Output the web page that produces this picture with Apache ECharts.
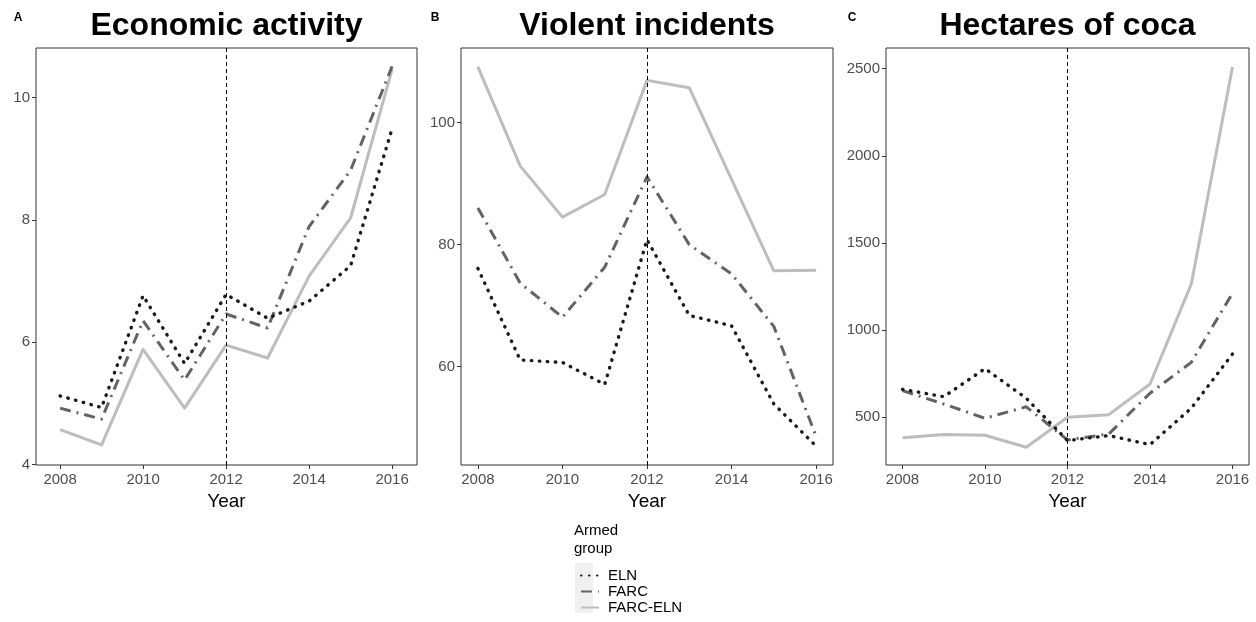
<!DOCTYPE html>
<html>
<head>
<meta charset="utf-8">
<script src="https://cdn.jsdelivr.net/npm/echarts@6/dist/echarts.min.js"></script>
<style>
html,body{margin:0;padding:0;background:#fff;}
#chart{width:1256px;height:622px;}
</style>
</head>
<body>
<div id="chart"></div>
<script>
const years = [2008, 2009, 2010, 2011, 2012, 2013, 2014, 2015, 2016];
const groups = ['ELN', 'FARC', 'FARC-ELN'];

const econELN     = [5.12, 4.93, 6.76, 5.65, 6.78, 6.39, 6.67, 7.25, 9.49];
const econFARC    = [4.92, 4.74, 6.35, 5.38, 6.46, 6.23, 7.89, 8.81, 10.51];
const econFARCELN = [4.57, 4.32, 5.88, 4.92, 5.95, 5.74, 7.08, 8.03, 10.46];

const violELN     = [76.1, 61.1, 60.7, 57.1, 80.8, 68.4, 66.7, 53.9, 47.0];
const violFARC    = [86.0, 73.7, 68.1, 76.3, 91.1, 80.0, 75.2, 66.6, 48.6];
const violFARCELN = [109.1, 92.9, 84.5, 88.2, 106.9, 105.7, 90.7, 75.7, 75.8];

const cocaELN     = [660, 618, 779, 609, 366, 395, 343, 552, 863];
const cocaFARC    = [653, 576, 494, 560, 370, 404, 638, 815, 1212];
const cocaFARCELN = [382, 401, 397, 328, 500, 515, 691, 1264, 2510];

const xTicks    = [2008, 2010, 2012, 2014, 2016];
const econTicks = [4, 6, 8, 10];
const violTicks = [60, 80, 100];
const cocaTicks = [500, 1000, 1500, 2000, 2500];

const panelTitles = ['Economic activity', 'Violent incidents', 'Hectares of coca'];
const panelLetters = ['A', 'B', 'C'];
const cutYear = 2012;

const FONT = "'Liberation Sans', Arial, sans-serif";
const styles = {
  'ELN':      {color: '#1a1a1a', width: 3.4, type: [0.5, 7.5], cap: 'round'},
  'FARC':     {color: '#636363', width: 3, type: [11, 6, 2, 6], cap: 'butt'},
  'FARC-ELN': {color: '#bdbdbd', width: 3, type: 'solid', cap: 'butt'}
};

const panels = [
  {left: 36, right: 839, xmin: 2007.42, xmax: 2016.6, ymin: 3.99, ymax: 10.81, yTicks: econTicks,
   data: [econELN, econFARC, econFARCELN], cx: 226.5},
  {left: 461, right: 423, xmin: 2007.6, xmax: 2016.4, ymin: 43.9, ymax: 112.2, yTicks: violTicks,
   data: [violELN, violFARC, violFARCELN], cx: 647},
  {left: 886, right: 7, xmin: 2007.6, xmax: 2016.4, ymin: 226, ymax: 2619, yTicks: cocaTicks,
   data: [cocaELN, cocaFARC, cocaFARCELN], cx: 1067.5}
];
const letterX = [18, 435, 852];
const plain = v => String(v);

const grid = [], xAxis = [], yAxis = [], series = [];
panels.forEach((p, k) => {
  grid.push({left: p.left, right: p.right, top: 48, bottom: 157, show: true,
    borderColor: '#333', borderWidth: 1, backgroundColor: 'transparent'});
  xAxis.push({type: 'value', gridIndex: k, min: p.xmin, max: p.xmax,
    name: 'Year', nameLocation: 'middle', nameGap: 21,
    nameTextStyle: {fontSize: 19, color: '#000', fontFamily: FONT},
    axisLine: {show: false}, splitLine: {show: false},
    axisTick: {show: true, length: 4, customValues: xTicks, lineStyle: {color: '#333'}},
    axisLabel: {customValues: xTicks, formatter: plain, fontSize: 15, color: '#4d4d4d', fontFamily: FONT, margin: 7}});
  yAxis.push({type: 'value', gridIndex: k, min: p.ymin, max: p.ymax,
    axisLine: {show: false}, splitLine: {show: false},
    axisTick: {show: true, length: 4, customValues: p.yTicks, lineStyle: {color: '#333'}},
    axisLabel: {customValues: p.yTicks, formatter: plain, fontSize: 15, color: '#4d4d4d', fontFamily: FONT, margin: 6}});
  groups.forEach((g, j) => {
    const s = styles[g];
    const ser = {
      name: g, type: 'line', xAxisIndex: k, yAxisIndex: k,
      data: years.map((y, i) => [y, p.data[j][i]]),
      symbol: 'none', silent: true, animation: false, z: 3 + (2 - j),
      lineStyle: {color: s.color, width: s.width, type: s.type, cap: s.cap, join: 'round'},
      itemStyle: {color: s.color}
    };
    if (j === 0) {
      ser.markLine = {silent: true, symbol: 'none', animation: false,
        label: {show: false},
        lineStyle: {color: '#000', width: 1, type: [4, 3]},
        data: [{xAxis: cutYear}]};
    }
    series.push(ser);
  });
});

const graphic = [];
panels.forEach((p, k) => {
  graphic.push({type: 'text', x: p.cx, y: 26, style: {
    text: panelTitles[k], fontSize: 32, fontWeight: 'bold', fontFamily: FONT, fill: '#000',
    textAlign: 'center', textVerticalAlign: 'middle'}});
  graphic.push({type: 'text', x: letterX[k], y: 18, style: {
    text: panelLetters[k], fontSize: 12, fontWeight: 'bold', fontFamily: FONT, fill: '#000',
    textAlign: 'center', textVerticalAlign: 'middle'}});
});
graphic.push({type: 'text', x: 574, y: 522, style: {
  text: 'Armed\ngroup', fontSize: 15, lineHeight: 18, fontFamily: FONT, fill: '#000'}});
graphic.push({type: 'rect', x: 575, y: 563, shape: {width: 18, height: 50}, z: -1,
  style: {fill: '#f0f0f0'}});

const option = {
  backgroundColor: '#fff',
  animation: false,
  grid, xAxis, yAxis, series, graphic,
  legend: {
    data: groups, orient: 'vertical', left: 575, top: 563,
    itemWidth: 18, itemHeight: 15, itemGap: 1, selectedMode: false,
    itemStyle: {color: 'rgba(0,0,0,0)', borderWidth: 0, opacity: 0},
    textStyle: {fontSize: 15, color: '#000', fontFamily: FONT, padding: [0, 0, 0, 4]}
  }
};

const chart = echarts.init(document.getElementById('chart'), null, {renderer: 'canvas'});
chart.setOption(option);
</script>
</body>
</html>
